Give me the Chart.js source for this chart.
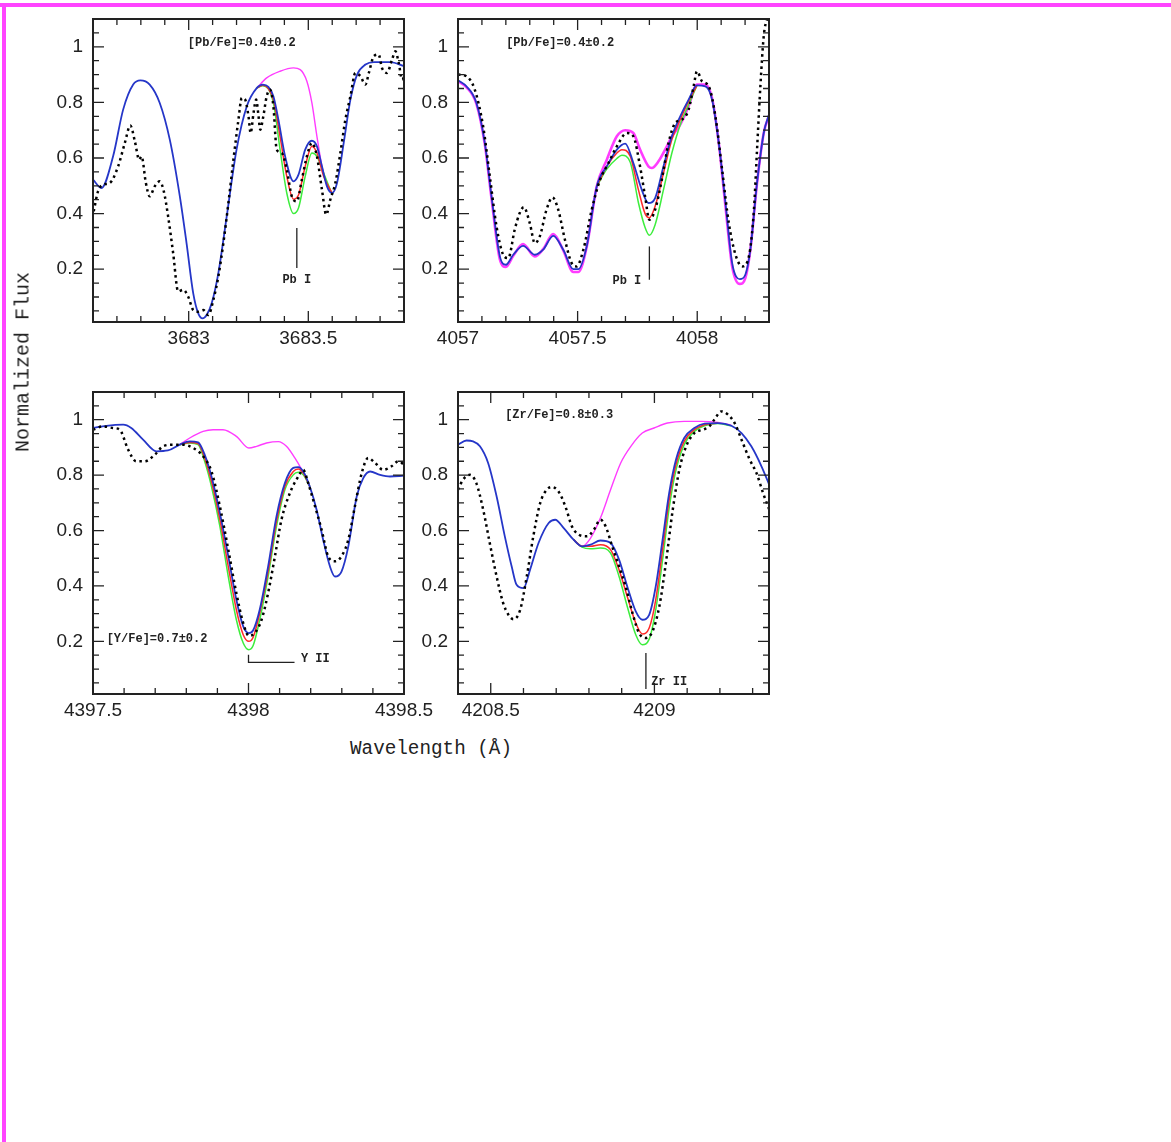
<!DOCTYPE html>
<html><head><meta charset="utf-8">
<script src="https://cdn.jsdelivr.net/npm/chart.js@4.4.1/dist/chart.umd.min.js"></script>
<style>
html,body{margin:0;padding:0;background:#fff;}
body{width:1171px;height:1142px;overflow:hidden;position:relative;}
#topbar{position:absolute;left:0;top:3px;width:1171px;height:4px;background:#ff44ff;}
#leftbar{position:absolute;left:2px;top:3px;width:4px;height:1139px;background:#ff44ff;}
canvas{position:absolute;}
.title{position:absolute;font-family:'Liberation Mono',monospace;font-size:19.3px;color:#222;white-space:nowrap;transform:translate(-50%,-50%);}
#ylab{font-size:20px;transform:translate(-50%,-50%) rotate(-90deg);}
</style></head><body>
<div id="topbar"></div><div id="leftbar"></div>
<canvas id="c1"></canvas><canvas id="c2"></canvas><canvas id="c3"></canvas><canvas id="c4"></canvas>
<div class="title" id="ylab" style="left:23px;top:362px;">Normalized Flux</div>
<div class="title" id="xlab" style="left:431px;top:749px;">Wavelength (Å)</div>
<script>
// ---------- DATA ----------
const yTickValues = [0.2, 0.4, 0.6, 0.8, 1];
const yTickLabels = ['0.2', '0.4', '0.6', '0.8', '1'];

// Panel 1: Pb I 3683
const p1TickValues = [3683, 3683.5];
const p1TickLabels = ['3683', '3683.5'];
const p1Observed = [[3682.603,0.408],[3682.621,0.480],[3682.642,0.504],[3682.670,0.510],[3682.705,0.570],[3682.733,0.654],[3682.756,0.717],[3682.775,0.660],[3682.793,0.594],[3682.803,0.606],[3682.821,0.510],[3682.837,0.462],[3682.858,0.498],[3682.879,0.516],[3682.896,0.480],[3682.914,0.390],[3682.935,0.258],[3682.956,0.120],[3682.977,0.126],[3682.998,0.101],[3683.019,0.053],[3683.040,0.047],[3683.061,0.053],[3683.082,0.035],[3683.103,0.089],[3683.124,0.174],[3683.145,0.294],[3683.166,0.438],[3683.187,0.594],[3683.208,0.738],[3683.222,0.816],[3683.236,0.810],[3683.250,0.750],[3683.259,0.690],[3683.271,0.762],[3683.282,0.810],[3683.292,0.750],[3683.299,0.702],[3683.312,0.750],[3683.326,0.822],[3683.340,0.846],[3683.354,0.786],[3683.368,0.630],[3683.389,0.618],[3683.410,0.558],[3683.431,0.462],[3683.452,0.444],[3683.473,0.522],[3683.494,0.606],[3683.515,0.654],[3683.536,0.606],[3683.557,0.486],[3683.575,0.396],[3683.592,0.450],[3683.613,0.510],[3683.634,0.618],[3683.655,0.738],[3683.676,0.822],[3683.697,0.906],[3683.718,0.894],[3683.739,0.864],[3683.753,0.906],[3683.774,0.966],[3683.794,0.972],[3683.808,0.924],[3683.829,0.906],[3683.850,0.954],[3683.864,0.984],[3683.878,0.942],[3683.892,0.882],[3683.902,0.894]];
const p1Blue = [[3682.600,0.522],[3682.635,0.492],[3682.684,0.606],[3682.726,0.774],[3682.768,0.864],[3682.798,0.879],[3682.837,0.864],[3682.879,0.798],[3682.921,0.666],[3682.963,0.462],[3682.991,0.294],[3683.019,0.113],[3683.040,0.041],[3683.058,0.023],[3683.075,0.035],[3683.096,0.077],[3683.124,0.186],[3683.159,0.390],[3683.200,0.630],[3683.243,0.786],[3683.285,0.852],[3683.310,0.864],[3683.333,0.856],[3683.354,0.822],[3683.375,0.738],[3683.403,0.606],[3683.438,0.516],[3683.459,0.540],[3683.487,0.630],[3683.515,0.662],[3683.536,0.642],[3683.557,0.570],[3683.578,0.498],[3683.599,0.474],[3683.620,0.510],[3683.648,0.654],[3683.676,0.810],[3683.704,0.900],[3683.739,0.936],[3683.774,0.945],[3683.843,0.945],[3683.902,0.930]];
const p1Red = [[3683.285,0.852],[3683.310,0.862],[3683.354,0.810],[3683.382,0.677],[3683.410,0.534],[3683.438,0.452],[3683.459,0.467],[3683.487,0.570],[3683.515,0.642],[3683.536,0.618],[3683.564,0.534],[3683.599,0.474]];
const p1Green = [[3683.285,0.852],[3683.310,0.860],[3683.354,0.798],[3683.382,0.630],[3683.410,0.474],[3683.438,0.400],[3683.459,0.420],[3683.487,0.534],[3683.515,0.618],[3683.536,0.606],[3683.564,0.546],[3683.599,0.470]];
const p1Magenta = [[3683.285,0.852],[3683.326,0.888],[3683.382,0.912],[3683.438,0.924],[3683.466,0.918],[3683.494,0.876],[3683.515,0.798],[3683.536,0.678],[3683.557,0.570],[3683.578,0.504],[3683.599,0.474]];

// Panel 2: Pb I 4057.8
const p2TickValues = [4057, 4057.5, 4058];
const p2TickLabels = ['4057', '4057.5', '4058'];
const p2Observed = [[4057.000,0.900],[4057.035,0.894],[4057.070,0.846],[4057.105,0.714],[4057.133,0.534],[4057.161,0.354],[4057.189,0.252],[4057.210,0.240],[4057.237,0.342],[4057.258,0.402],[4057.275,0.423],[4057.300,0.366],[4057.321,0.294],[4057.342,0.318],[4057.370,0.414],[4057.395,0.458],[4057.419,0.414],[4057.447,0.306],[4057.475,0.222],[4057.496,0.210],[4057.524,0.270],[4057.559,0.414],[4057.594,0.522],[4057.629,0.582],[4057.664,0.642],[4057.706,0.690],[4057.733,0.678],[4057.761,0.570],[4057.782,0.462],[4057.800,0.378],[4057.824,0.414],[4057.852,0.522],[4057.880,0.654],[4057.908,0.726],[4057.936,0.738],[4057.964,0.774],[4057.985,0.858],[4057.999,0.912],[4058.020,0.876],[4058.048,0.858],[4058.076,0.750],[4058.104,0.558],[4058.132,0.366],[4058.160,0.252],[4058.188,0.210],[4058.216,0.246],[4058.237,0.414],[4058.250,0.630],[4058.264,0.858],[4058.278,1.038],[4058.292,1.098],[4058.302,1.105]];
const p2Blue = [[4057.000,0.880],[4057.035,0.858],[4057.077,0.798],[4057.112,0.654],[4057.140,0.462],[4057.175,0.246],[4057.200,0.216],[4057.231,0.252],[4057.272,0.284],[4057.321,0.252],[4057.356,0.270],[4057.398,0.320],[4057.440,0.270],[4057.482,0.200],[4057.503,0.200],[4057.538,0.282],[4057.580,0.498],[4057.622,0.570],[4057.664,0.630],[4057.699,0.652],[4057.733,0.582],[4057.768,0.486],[4057.796,0.438],[4057.824,0.456],[4057.859,0.570],[4057.894,0.678],[4057.929,0.750],[4057.964,0.810],[4057.999,0.861],[4058.034,0.858],[4058.062,0.810],[4058.090,0.654],[4058.118,0.438],[4058.146,0.222],[4058.178,0.164],[4058.201,0.180],[4058.222,0.270],[4058.250,0.510],[4058.278,0.690],[4058.302,0.762]];
const p2Red = [[4057.580,0.498],[4057.622,0.570],[4057.664,0.618],[4057.685,0.630],[4057.720,0.606],[4057.754,0.486],[4057.782,0.400],[4057.800,0.385],[4057.824,0.426],[4057.859,0.546],[4057.894,0.666],[4057.929,0.738],[4057.964,0.804],[4057.999,0.861]];
const p2Green = [[4057.580,0.498],[4057.622,0.560],[4057.664,0.598],[4057.685,0.610],[4057.720,0.585],[4057.754,0.440],[4057.782,0.350],[4057.800,0.322],[4057.824,0.360],[4057.859,0.486],[4057.894,0.618],[4057.929,0.720],[4057.964,0.792],[4057.999,0.861]];
const p2Magenta = [[4057.000,0.876],[4057.035,0.855],[4057.077,0.795],[4057.112,0.650],[4057.140,0.455],[4057.175,0.235],[4057.200,0.208],[4057.231,0.248],[4057.272,0.290],[4057.321,0.246],[4057.356,0.272],[4057.398,0.326],[4057.440,0.268],[4057.482,0.190],[4057.503,0.190],[4057.538,0.280],[4057.580,0.498],[4057.622,0.594],[4057.664,0.678],[4057.699,0.700],[4057.733,0.690],[4057.761,0.630],[4057.796,0.570],[4057.810,0.564],[4057.838,0.588],[4057.873,0.642],[4057.894,0.678],[4057.929,0.720],[4057.964,0.786],[4057.999,0.864],[4058.034,0.864],[4058.062,0.815],[4058.090,0.654],[4058.118,0.426],[4058.146,0.210],[4058.178,0.147],[4058.201,0.168],[4058.222,0.270],[4058.250,0.510],[4058.278,0.690],[4058.302,0.756]];

// Panel 3: Y II 4398
const p3TickValues = [4397.5, 4398, 4398.5];
const p3TickLabels = ['4397.5', '4398', '4398.5'];
const p3Observed = [[4397.500,0.964],[4397.532,0.976],[4397.564,0.970],[4397.586,0.964],[4397.613,0.892],[4397.639,0.850],[4397.666,0.850],[4397.699,0.874],[4397.725,0.904],[4397.758,0.910],[4397.790,0.910],[4397.822,0.898],[4397.854,0.868],[4397.881,0.813],[4397.908,0.687],[4397.935,0.531],[4397.961,0.374],[4397.983,0.266],[4398.001,0.220],[4398.020,0.230],[4398.042,0.278],[4398.063,0.374],[4398.085,0.507],[4398.106,0.639],[4398.133,0.735],[4398.160,0.795],[4398.176,0.819],[4398.192,0.771],[4398.214,0.687],[4398.235,0.603],[4398.256,0.507],[4398.278,0.489],[4398.299,0.507],[4398.321,0.567],[4398.342,0.687],[4398.364,0.807],[4398.385,0.862],[4398.407,0.844],[4398.433,0.819],[4398.460,0.832],[4398.482,0.850],[4398.500,0.838]];
const p3Blue = [[4397.500,0.970],[4397.543,0.978],[4397.597,0.982],[4397.623,0.970],[4397.661,0.928],[4397.704,0.886],[4397.741,0.889],[4397.779,0.910],[4397.811,0.922],[4397.838,0.918],[4397.859,0.874],[4397.881,0.795],[4397.908,0.663],[4397.935,0.507],[4397.961,0.350],[4397.983,0.254],[4398.001,0.230],[4398.015,0.240],[4398.036,0.314],[4398.063,0.470],[4398.090,0.651],[4398.117,0.771],[4398.144,0.826],[4398.160,0.829],[4398.176,0.813],[4398.197,0.759],[4398.219,0.675],[4398.240,0.567],[4398.262,0.470],[4398.278,0.434],[4398.299,0.452],[4398.321,0.543],[4398.348,0.723],[4398.369,0.789],[4398.391,0.813],[4398.423,0.801],[4398.455,0.795],[4398.500,0.798]];
const p3Red = [[4397.779,0.910],[4397.811,0.918],[4397.838,0.914],[4397.859,0.862],[4397.881,0.777],[4397.908,0.639],[4397.935,0.470],[4397.961,0.314],[4397.983,0.224],[4398.001,0.200],[4398.015,0.215],[4398.036,0.302],[4398.063,0.452],[4398.090,0.633],[4398.117,0.759],[4398.144,0.813],[4398.160,0.822],[4398.176,0.807],[4398.197,0.759]];
const p3Green = [[4397.779,0.910],[4397.811,0.916],[4397.838,0.910],[4397.859,0.850],[4397.881,0.759],[4397.908,0.615],[4397.935,0.434],[4397.961,0.278],[4397.983,0.194],[4398.001,0.170],[4398.015,0.185],[4398.036,0.278],[4398.063,0.434],[4398.090,0.615],[4398.117,0.747],[4398.144,0.801],[4398.160,0.810],[4398.176,0.801],[4398.197,0.759]];
const p3Magenta = [[4397.779,0.910],[4397.811,0.934],[4397.854,0.958],[4397.886,0.964],[4397.918,0.964],[4397.961,0.940],[4398.001,0.898],[4398.026,0.904],[4398.058,0.916],[4398.096,0.921],[4398.122,0.904],[4398.149,0.862],[4398.171,0.820],[4398.192,0.771]];

// Panel 4: Zr II 4209
const p4TickValues = [4208.5, 4209];
const p4TickLabels = ['4208.5', '4209'];
const p4Observed = [[4208.400,0.747],[4208.415,0.783],[4208.436,0.801],[4208.456,0.771],[4208.477,0.675],[4208.497,0.555],[4208.518,0.434],[4208.538,0.338],[4208.554,0.296],[4208.569,0.280],[4208.590,0.314],[4208.610,0.434],[4208.630,0.579],[4208.651,0.699],[4208.671,0.747],[4208.687,0.757],[4208.707,0.741],[4208.728,0.687],[4208.748,0.615],[4208.769,0.585],[4208.794,0.579],[4208.815,0.603],[4208.835,0.639],[4208.851,0.615],[4208.871,0.543],[4208.892,0.470],[4208.912,0.398],[4208.933,0.302],[4208.953,0.230],[4208.974,0.212],[4208.994,0.236],[4209.015,0.326],[4209.035,0.483],[4209.056,0.675],[4209.076,0.819],[4209.097,0.904],[4209.122,0.952],[4209.148,0.964],[4209.168,0.976],[4209.184,1.002],[4209.204,1.030],[4209.225,1.018],[4209.245,0.988],[4209.266,0.928],[4209.291,0.856],[4209.312,0.807],[4209.332,0.735],[4209.355,0.663]];
const p4Blue = [[4208.400,0.910],[4208.426,0.925],[4208.446,0.922],[4208.467,0.904],[4208.492,0.844],[4208.518,0.723],[4208.543,0.579],[4208.564,0.470],[4208.579,0.404],[4208.600,0.392],[4208.620,0.458],[4208.646,0.555],[4208.677,0.627],[4208.697,0.639],[4208.723,0.609],[4208.753,0.567],[4208.779,0.543],[4208.805,0.549],[4208.835,0.564],[4208.866,0.555],[4208.892,0.495],[4208.917,0.398],[4208.943,0.308],[4208.963,0.278],[4208.984,0.296],[4209.004,0.398],[4209.025,0.567],[4209.045,0.735],[4209.066,0.856],[4209.091,0.934],[4209.122,0.970],[4209.153,0.986],[4209.194,0.988],[4209.235,0.978],[4209.266,0.952],[4209.296,0.904],[4209.327,0.832],[4209.355,0.753]];
const p4Red = [[4208.753,0.567],[4208.779,0.543],[4208.805,0.543],[4208.835,0.549],[4208.866,0.531],[4208.892,0.458],[4208.917,0.362],[4208.943,0.266],[4208.963,0.227],[4208.984,0.248],[4209.004,0.350],[4209.025,0.531],[4209.045,0.711],[4209.066,0.838],[4209.091,0.922],[4209.122,0.964],[4209.153,0.982],[4209.194,0.988]];
const p4Green = [[4208.753,0.567],[4208.779,0.540],[4208.805,0.534],[4208.835,0.537],[4208.866,0.519],[4208.892,0.434],[4208.917,0.326],[4208.943,0.224],[4208.963,0.188],[4208.984,0.208],[4209.004,0.314],[4209.025,0.495],[4209.045,0.681],[4209.066,0.819],[4209.091,0.910],[4209.122,0.958],[4209.153,0.978],[4209.194,0.986],[4209.235,0.978]];
const p4Magenta = [[4208.753,0.567],[4208.779,0.543],[4208.805,0.573],[4208.835,0.645],[4208.866,0.747],[4208.897,0.844],[4208.928,0.904],[4208.963,0.952],[4208.999,0.970],[4209.040,0.988],[4209.091,0.994],[4209.143,0.994],[4209.194,0.990],[4209.235,0.980]];

// ---------- STYLE / LAYOUT ----------
const COLORS = {obs:'#000000', blue:'#2536c8', red:'#ff2a2a', green:'#3ded3d', magenta:'#ff3cff', ink:'#222222'};
const PAD = {l:60, t:30, r:45, b:40};

const panels = [
  {id:'c1', area:{x:93, y:19, w:311, h:303}, xMin:3682.6, xMax:3683.9, ticks:p1TickValues, labels:p1TickLabels,
   obs:p1Observed, blue:p1Blue, red:p1Red, green:p1Green, magenta:p1Magenta, magW:1.4,
   notes:[{t:'[Pb/Fe]=0.4±0.2', x:3683.222, y:1.014}, {t:'Pb I', x:3683.452, y:0.160}],
   marks:[[[3683.452,0.348],[3683.452,0.204]]]},
  {id:'c2', area:{x:458, y:19, w:311, h:303}, xMin:4057.0, xMax:4058.3, ticks:p2TickValues, labels:p2TickLabels,
   obs:p2Observed, blue:p2Blue, red:p2Red, green:p2Green, magenta:p2Magenta, magW:2.6,
   notes:[{t:'[Pb/Fe]=0.4±0.2', x:4057.427, y:1.014}, {t:'Pb I', x:4057.706, y:0.156}],
   marks:[[[4057.8,0.282],[4057.8,0.162]]]},
  {id:'c3', area:{x:93, y:392, w:311, h:302}, xMin:4397.5, xMax:4398.5, ticks:p3TickValues, labels:p3TickLabels,
   obs:p3Observed, blue:p3Blue, red:p3Red, green:p3Green, magenta:p3Magenta, magW:1.4,
   notes:[{t:'[Y/Fe]=0.7±0.2', x:4397.706, y:0.209}, {t:'Y II', x:4398.215, y:0.138}],
   marks:[[[4398.0,0.152],[4398.0,0.124],[4398.148,0.124]]]},
  {id:'c4', area:{x:458, y:392, w:311, h:302}, xMin:4208.4, xMax:4209.35, ticks:p4TickValues, labels:p4TickLabels,
   obs:p4Observed, blue:p4Blue, red:p4Red, green:p4Green, magenta:p4Magenta, magW:1.4,
   notes:[{t:'[Zr/Fe]=0.8±0.3', x:4208.709, y:1.018}, {t:'Zr II', x:4209.045, y:0.055}],
   marks:[[[4208.974,0.158],[4208.974,0.028]]]}
];

function series(pairs, color, width, dash){
  return {data: pairs.map(p => ({x:p[0], y:p[1]})), borderColor: color, borderWidth: width,
    borderDash: dash || [], borderCapStyle: 'butt', borderJoinStyle: 'round',
    pointRadius: 0, fill: false, cubicInterpolationMode: 'monotone'};
}

function minorValues(min, max, step){
  const out = [];
  const k0 = Math.ceil(min/step - 1e-6), k1 = Math.floor(max/step + 1e-6);
  for (let k = k0; k <= k1; k++) out.push(+(k*step).toFixed(4));
  return out;
}

function framePlugin(p){
  return {
    id: 'frame_' + p.id,
    afterDatasetsDraw(chart){
      const {ctx, chartArea: a, scales: {x, y}} = chart;
      ctx.save();
      ctx.strokeStyle = COLORS.ink;
      ctx.lineWidth = 1.3;
      const isMajor = (v, list) => list.some(t => Math.abs(t - v) < 1e-6);
      minorValues(p.xMin, p.xMax, 0.1).forEach(v => {
        const px = x.getPixelForValue(v);
        if (px <= a.left + 1 || px >= a.right - 1) return;
        const len = isMajor(v, p.ticks) ? 11 : 6;
        ctx.beginPath();
        ctx.moveTo(px, a.bottom); ctx.lineTo(px, a.bottom - len);
        ctx.moveTo(px, a.top); ctx.lineTo(px, a.top + len);
        ctx.stroke();
      });
      minorValues(0.01, 1.1, 0.05).forEach(v => {
        const py = y.getPixelForValue(v);
        if (py <= a.top + 1 || py >= a.bottom - 1) return;
        const len = isMajor(v, yTickValues) ? 11 : 6;
        ctx.beginPath();
        ctx.moveTo(a.left, py); ctx.lineTo(a.left + len, py);
        ctx.moveTo(a.right, py); ctx.lineTo(a.right - len, py);
        ctx.stroke();
      });
      ctx.lineWidth = 2;
      ctx.strokeRect(a.left, a.top, a.width, a.height);
      ctx.lineWidth = 1.3;
      p.marks.forEach(m => {
        ctx.beginPath();
        m.forEach((pt, i) => {
          const X = x.getPixelForValue(pt[0]), Y = y.getPixelForValue(pt[1]);
          if (i === 0) ctx.moveTo(X, Y); else ctx.lineTo(X, Y);
        });
        ctx.stroke();
      });
      ctx.fillStyle = COLORS.ink;
      ctx.font = 'bold 12px "Liberation Mono", monospace';
      ctx.textAlign = 'center';
      ctx.textBaseline = 'middle';
      p.notes.forEach(n => ctx.fillText(n.t, x.getPixelForValue(n.x), y.getPixelForValue(n.y)));
      ctx.restore();
    }
  };
}

function build(p){
  const cv = document.getElementById(p.id);
  const W = p.area.w + PAD.l + PAD.r, H = p.area.h + PAD.t + PAD.b;
  cv.width = W; cv.height = H;
  Object.assign(cv.style, {left:(p.area.x - PAD.l) + 'px', top:(p.area.y - PAD.t) + 'px', width:W + 'px', height:H + 'px'});
  const datasets = [
    series(p.obs, COLORS.obs, 2.5, [2.5, 3.6]),
    series(p.blue, COLORS.blue, 1.8),
    series(p.red, COLORS.red, 1.5),
    series(p.green, COLORS.green, 1.5),
    series(p.magenta, COLORS.magenta, p.magW)
  ];
  const tickFont = {family:'"Liberation Sans", Arial, sans-serif', size:19};
  new Chart(cv, {
    type: 'line',
    data: {datasets},
    options: {
      responsive: false, animation: false, devicePixelRatio: 1,
      layout: {padding: {left:0, top:PAD.t, right:PAD.r, bottom:0}},
      plugins: {legend:{display:false}, tooltip:{enabled:false}},
      scales: {
        x: {type:'linear', min:p.xMin, max:p.xMax,
            grid:{display:false, drawTicks:false}, border:{display:false},
            ticks:{font:tickFont, color:COLORS.ink, padding:5, maxRotation:0, autoSkip:false,
                   callback:(v) => { const i = p.ticks.findIndex(t => Math.abs(t - v) < 1e-6); return i >= 0 ? p.labels[i] : ''; }},
            afterBuildTicks: s => { s.ticks = p.ticks.map(v => ({value:v})); },
            afterFit: s => { s.height = PAD.b; }},
        y: {type:'linear', min:0.01, max:1.1,
            grid:{display:false, drawTicks:false}, border:{display:false},
            ticks:{font:tickFont, color:COLORS.ink, padding:10,
                   callback:(v) => { const i = yTickValues.findIndex(t => Math.abs(t - v) < 1e-6); return i >= 0 ? yTickLabels[i] : ''; }},
            afterBuildTicks: s => { s.ticks = yTickValues.map(v => ({value:v})); },
            afterFit: s => { s.width = PAD.l; }}
      }
    },
    plugins: [framePlugin(p)]
  });
}
panels.forEach(build);
</script>
</body></html>
